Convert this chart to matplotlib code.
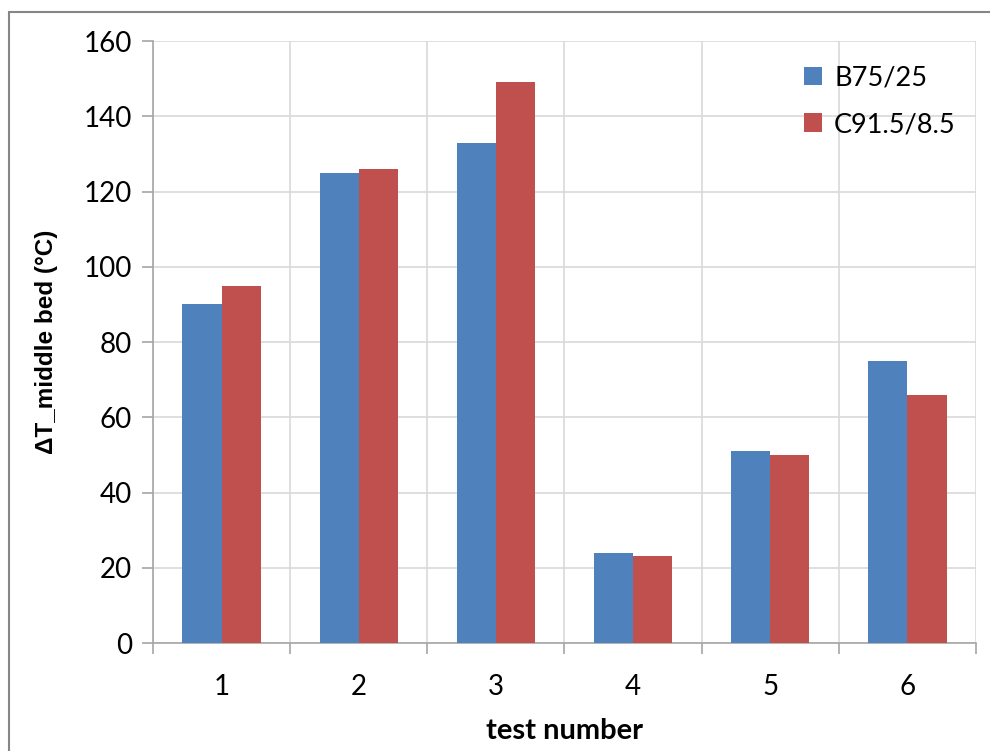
import numpy as np
import matplotlib
matplotlib.use('Agg')
import matplotlib.pyplot as plt
from matplotlib.patches import Rectangle

# data
tests = ['1', '2', '3', '4', '5', '6']
b75_25 = [90, 125, 133, 24, 51, 75]
c91_5 = [95, 126, 149, 23, 50, 66]
y_ticks = [0, 20, 40, 60, 80, 100, 120, 140, 160]

plt.rcParams['font.family'] = ['Lato', 'DejaVu Sans']

fig = plt.figure(figsize=(9.9, 7.51), dpi=100)
ax = fig.add_axes([0.1545, 0.1438, 0.8313, 0.8016])

# chart frame (left and top edge visible)
fig.patches.append(Rectangle((9 / 990, -0.1), 1.2, 1 - 12 / 751 + 0.1,
                             transform=fig.transFigure, fill=False,
                             edgecolor='#868686', linewidth=1.5))

x = np.arange(len(tests))
w = 1 / 3.5
ax.bar(x - w / 2, b75_25, w, color='#4F81BD', label='B75/25', zorder=3)
ax.bar(x + w / 2, c91_5, w, color='#C0504D', label='C91.5/8.5', zorder=3)

ax.set_xlim(-0.5, len(tests) - 0.5)
ax.set_ylim(0, 160)
ax.set_yticks(y_ticks)
ax.set_xticks(x)
ax.set_xticklabels(tests)
ax.set_xticks(np.arange(-0.5, len(tests), 1), minor=True)

ax.grid(True, axis='y', color='#d9d9d9', linewidth=1.2, zorder=0)
ax.grid(True, axis='x', which='minor', color='#d9d9d9', linewidth=1.2, zorder=0)
ax.tick_params(axis='x', which='major', length=0, pad=22, labelsize=20)
ax.tick_params(axis='x', which='minor', length=8, color='#a6a6a6', width=1.2)
ax.tick_params(axis='y', length=8, color='#a6a6a6', width=1.2, pad=7, labelsize=20)

for side in ['top', 'right']:
    ax.spines[side].set_visible(False)
for side in ['left', 'bottom']:
    ax.spines[side].set_color('#a6a6a6')
    ax.spines[side].set_linewidth(1.2)

ax.set_ylabel('ΔT_middle bed (°C)', fontsize=17.5, fontweight='bold',
              family=['Liberation Sans', 'DejaVu Sans'])
ax.yaxis.set_label_coords(-0.115, 0.5)
ax.set_xlabel('test number', fontsize=21, fontweight='bold')
ax.xaxis.set_label_coords(0.5, -0.125)

ax.legend(loc='upper right', bbox_to_anchor=(1.005, 1.0), frameon=False,
          fontsize=19.5, handlelength=0.65, handleheight=0.65,
          handletextpad=0.45, labelspacing=0.8)

plt.savefig('out.png', dpi=100)
